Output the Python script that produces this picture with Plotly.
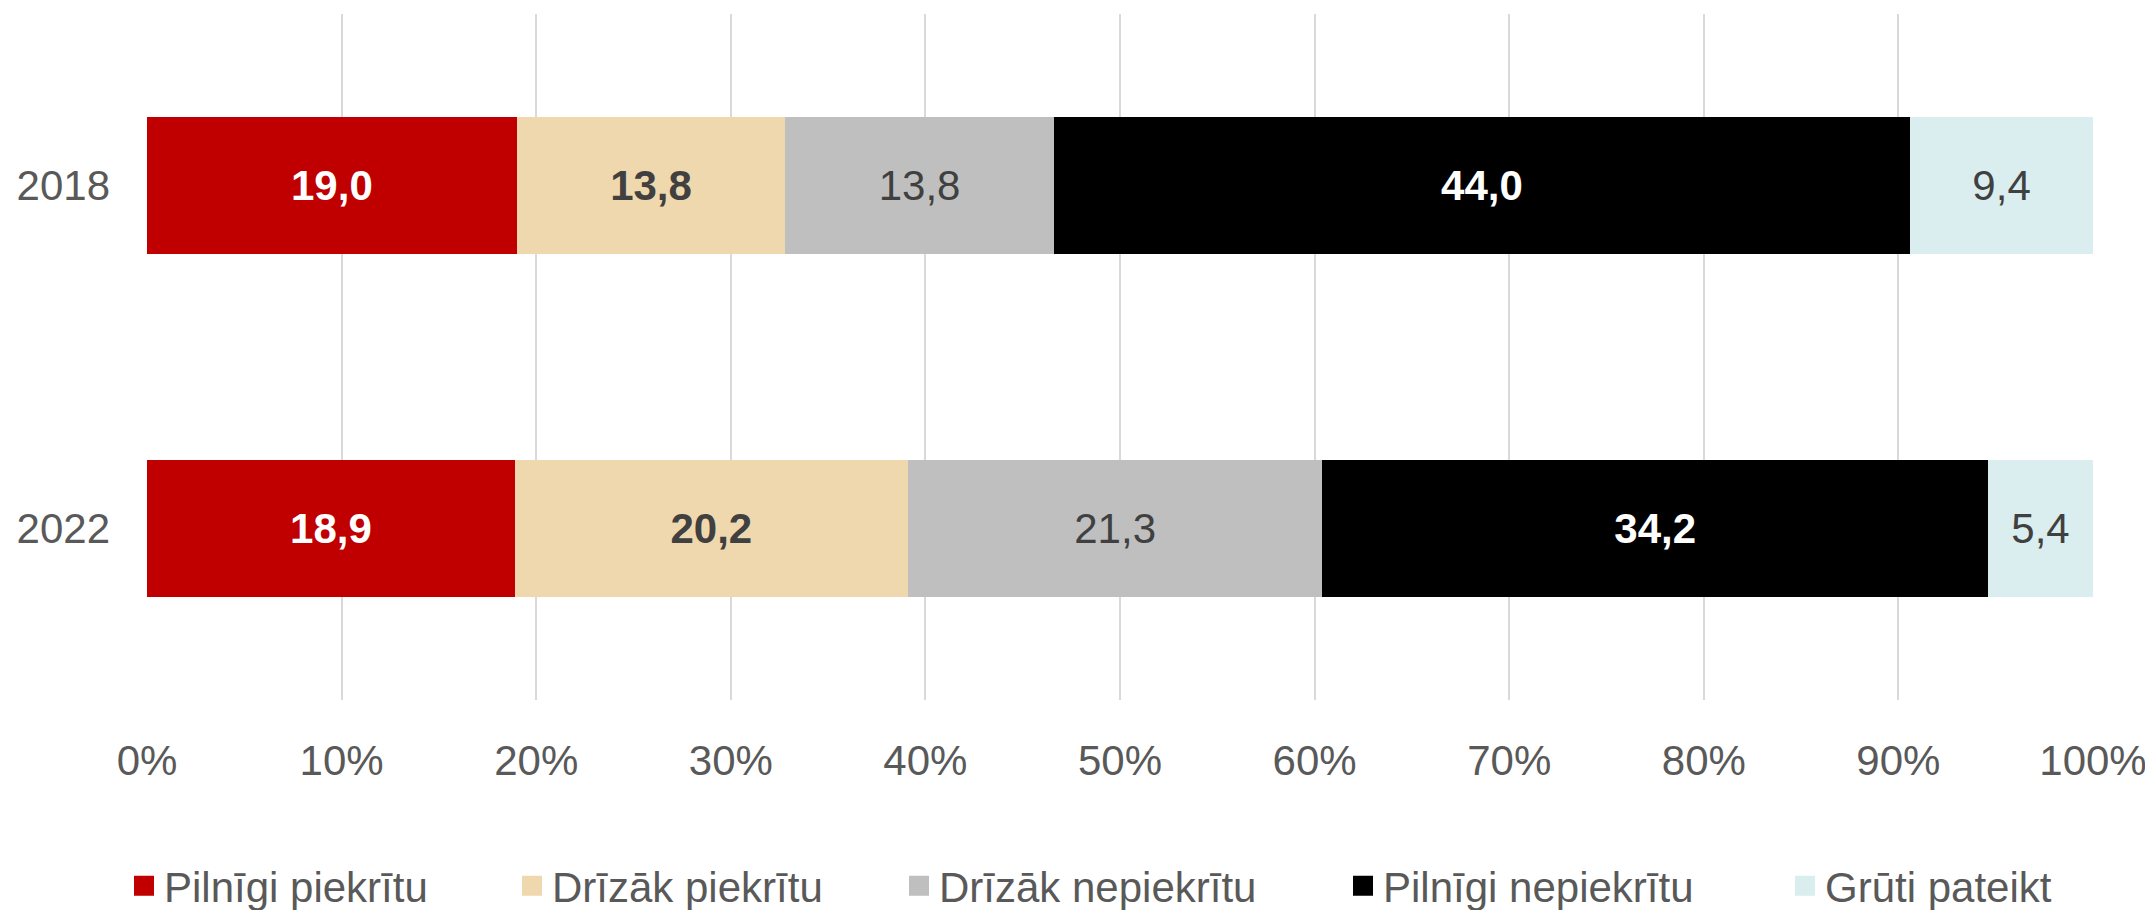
import plotly.graph_objects as go

years = ["2018", "2022"]
series_names = ["Pilnīgi piekrītu", "Drīzāk piekrītu", "Drīzāk nepiekrītu",
                "Pilnīgi nepiekrītu", "Grūti pateikt"]
values_2018 = [19.0, 13.8, 13.8, 44.0, 9.4]
values_2022 = [18.9, 20.2, 21.3, 34.2, 5.4]
colors = ["#C00000", "#F0D8AE", "#BFBFBF", "#000000", "#DAEDEF"]
label_colors = ["#FFFFFF", "#404040", "#404040", "#FFFFFF", "#404040"]
label_bold = [True, True, False, True, False]
x_ticks = [0, 10, 20, 30, 40, 50, 60, 70, 80, 90, 100]
x_tick_labels = [f"{t}%" for t in x_ticks]

# page has an 8px body margin; figure is sized to fill the rest of the window
OFF = 8
W, H = 2153 - OFF, 910 - OFF
L, R, T, B = 147 - OFF, 60, 14 - OFF, 210
FONT = "Liberation Sans, Arial, sans-serif"
FS = 42

# legend box left edges (px, page coords)
legend_px = [124, 512, 899, 1343, 1785]
legend_y_page = 886

fig = go.Figure()
for i, name in enumerate(series_names):
    vals = [values_2018[i], values_2022[i]]
    txt = [f"{v:.1f}".replace(".", ",") for v in vals]
    if label_bold[i]:
        txt = [f"<b>{t}</b>" for t in txt]
    fig.add_trace(go.Bar(
        y=years, x=vals, name=name, orientation="h",
        marker=dict(color=colors[i], line=dict(width=0)),
        text=txt, textposition="inside", insidetextanchor="middle",
        textangle=0,
        textfont=dict(family=FONT, size=FS, color=label_colors[i]),
        constraintext="none", cliponaxis=False,
        showlegend=False, hoverinfo="skip",
    ))

# legend entries (square swatches)
for i, name in enumerate(series_names):
    lg = "legend" if i == 0 else f"legend{i+1}"
    fig.add_trace(go.Scatter(
        x=[None], y=[None], mode="markers", name=name,
        marker=dict(symbol="square", size=22, color=colors[i],
                    line=dict(width=4, color=colors[i])),
        legend=lg, showlegend=True, hoverinfo="skip",
    ))

layout_legends = {}
for i in range(5):
    key = "legend" if i == 0 else f"legend{i+1}"
    layout_legends[key] = dict(
        xref="container", yref="container",
        x=(legend_px[i] - OFF) / W, xanchor="left",
        y=1 - (legend_y_page - OFF) / H, yanchor="middle",
        orientation="h", bgcolor="rgba(0,0,0,0)", borderwidth=0,
        font=dict(family=FONT, size=FS, color="#595959"),
        itemclick=False, itemdoubleclick=False,
        tracegroupgap=0, itemwidth=30,
    )

fig.update_layout(
    width=W, height=H,
    margin=dict(l=L, r=R, t=T, b=B, pad=0, autoexpand=False),
    paper_bgcolor="white", plot_bgcolor="white",
    barmode="stack", bargap=0.6,
    font=dict(family=FONT, size=FS, color="#595959"),
    showlegend=True,
    xaxis=dict(
        range=[0, 100], tickvals=x_ticks, ticktext=x_tick_labels,
        showgrid=True, gridcolor="#D9D9D9", gridwidth=2,
        zeroline=False, showline=False, ticks="",
        tickfont=dict(family=FONT, size=FS, color="#595959"),
        ticklabelstandoff=32, fixedrange=True, automargin=False,
    ),
    yaxis=dict(
        categoryorder="array", categoryarray=years, autorange="reversed",
        showgrid=False, zeroline=False, showline=False, ticks="",
        tickfont=dict(family=FONT, size=FS, color="#595959"),
        ticklabelstandoff=36, fixedrange=True, automargin=False,
    ),
    **layout_legends,
)

fig.write_html("out.html")
